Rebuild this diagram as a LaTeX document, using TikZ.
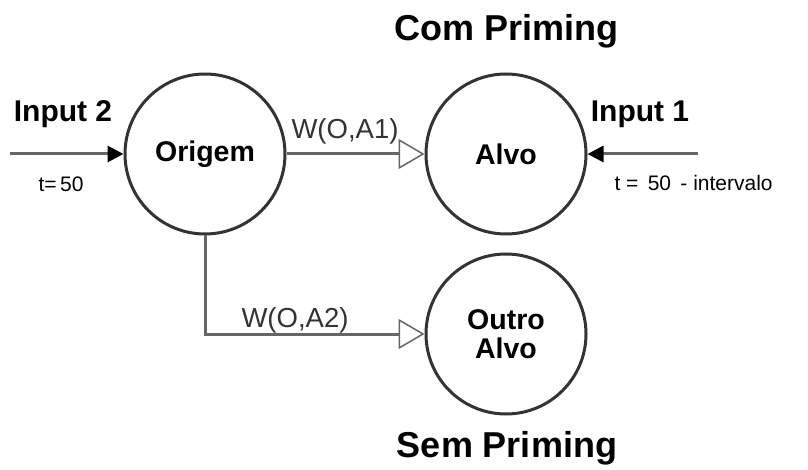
\documentclass[tikz,border=0pt]{standalone}
\usepackage{fontspec}
\setmainfont{Liberation Sans}
\usetikzlibrary{arrows.meta}
\begin{document}
\begin{tikzpicture}[x=1pt,y=-1pt,
  neuron/.style={circle,draw=black!80,line width=3pt,minimum size=160pt,inner sep=0pt,align=center,font=\fontsize{28.5}{33}\selectfont\bfseries},
  link/.style={draw=black!60,line width=3pt,-{Triangle[open,length=26pt,width=30pt,line width=1.5pt]}},
  inp/.style={draw=black!60,line width=3pt,-{Triangle[length=16pt,width=16pt,fill=black,color=black]}},
  title/.style={font=\fontsize{36}{42}\selectfont\bfseries},
  lbl/.style={font=\fontsize{30}{34}\selectfont\bfseries},
  wlbl/.style={font=\fontsize{27.5}{32}\selectfont,text=black!80},
  tlbl/.style={font=\fontsize{21}{26}\selectfont}]
\useasboundingbox (0,0) rectangle (808,470);
\node[neuron] (O) at (205,154) {Origem};
\node[neuron] (A) at (506,154) {Alvo};
\node[neuron] (B) at (506,334) {Outro\\[-4pt]Alvo};
\node[title] (t1) at (507,31) {Com Priming};
\node[title] (t2) at (507,448) {Sem Priming};
\coordinate (i2) at (10,154);
\coordinate (i1) at (698,154);
\coordinate (c) at (205,334);
\draw[inp] (i2) -- (O);
\draw[inp] (i1) -- (A);
\draw[link] (O) -- (A);
\draw[link] (O.south) -- (c) -- (B);
\node[lbl] (n2) at (63,114) {Input 2};
\node[lbl] (n1) at (640,114) {Input 1};
\node[tlbl] (tt2) at (61,184) {t=\,50};
\node[tlbl,anchor=west] (tt1) at (611,183) {t =\, 50\, - intervalo};
\node[wlbl] (w1) at (345,131) {W(O,A1)};
\node[wlbl] (w2) at (295,320) {W(O,A2)};
\end{tikzpicture}
\end{document}
